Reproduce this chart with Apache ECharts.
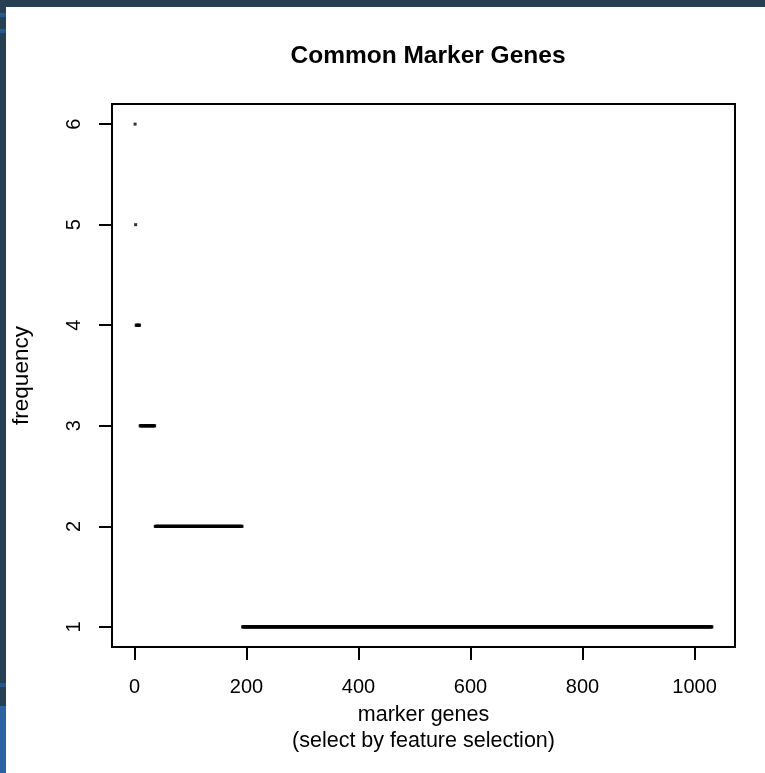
<!DOCTYPE html>
<html>
<head>
<meta charset="utf-8">
<title>Common Marker Genes</title>
<script src="https://cdn.jsdelivr.net/npm/echarts@6/dist/echarts.min.js"></script>
<style>
  html, body { margin: 0; padding: 0; background: #ffffff; }
  #chart { width: 765px; height: 773px; }
</style>
</head>
<body>
<div id="chart"></div>
<script>
// Marker genes ranked by how many selections they appear in.
// Each frequency level is shared by a run of consecutive ranked genes.
const frequencyLevels = [6, 5, 4, 3, 2, 1];
const genesPerLevel = [1, 1, 7, 27, 156, 839];

const xTickValues = [0, 200, 400, 600, 800, 1000];
const yTickValues = [1, 2, 3, 4, 5, 6];

const chartTitle = 'Common Marker Genes';
const xAxisTitle = 'marker genes\n(select by feature selection)';
const yAxisTitle = 'frequency';

// One point per ranked gene: [rank, frequency]
const genePoints = [];
let rank = 1;
frequencyLevels.forEach(function (freq, i) {
  for (let k = 0; k < genesPerLevel[i]; k++) {
    genePoints.push([rank, freq]);
    rank++;
  }
});
const geneCount = rank - 1;

// Axis ranges padded by 4% on each side, like base R graphics
const xPad = 0.04 * (geneCount - 1);
const yMinData = Math.min.apply(null, frequencyLevels);
const yMaxData = Math.max.apply(null, frequencyLevels);
const yPad = 0.04 * (yMaxData - yMinData);

const FONT = 'Liberation Sans, Arial, Helvetica, sans-serif';

const chart = echarts.init(document.getElementById('chart'), null, { renderer: 'canvas' });

chart.setOption({
  backgroundColor: '#ffffff',
  animation: false,
  title: {
    text: chartTitle,
    left: 423,
    top: 39,
    textAlign: 'center',
    textStyle: { fontFamily: FONT, fontSize: 24.5, fontWeight: 'bold', color: '#000000' }
  },
  grid: {
    left: 112,
    top: 104,
    right: 30,
    bottom: 126,
    containLabel: false,
    outerBoundsMode: 'none',
    show: true,
    borderColor: '#000000',
    borderWidth: 2,
    backgroundColor: 'transparent'
  },
  xAxis: {
    type: 'value',
    min: 1 - xPad,
    max: geneCount + xPad,
    name: xAxisTitle,
    nameLocation: 'middle',
    nameGap: 52,
    nameTextStyle: { fontFamily: FONT, fontSize: 21.5, color: '#000000', lineHeight: 26 },
    axisLine: { show: false, onZero: false },
    splitLine: { show: false },
    axisTick: {
      show: true,
      customValues: xTickValues,
      length: 13,
      lineStyle: { color: '#000000', width: 2 }
    },
    axisLabel: {
      customValues: xTickValues,
      formatter: function (v) { return String(v); },
      margin: 30,
      fontFamily: FONT,
      fontSize: 20,
      color: '#000000'
    }
  },
  yAxis: {
    type: 'value',
    min: yMinData - yPad,
    max: yMaxData + yPad,
    name: yAxisTitle,
    nameLocation: 'middle',
    nameRotate: 90,
    nameGap: 79,
    nameTextStyle: { fontFamily: FONT, fontSize: 22.5, color: '#000000' },
    axisLine: { show: false, onZero: false },
    splitLine: { show: false },
    axisTick: {
      show: true,
      customValues: yTickValues,
      length: 13,
      lineStyle: { color: '#000000', width: 2 }
    },
    axisLabel: {
      customValues: yTickValues,
      formatter: function (v) { return String(v); },
      rotate: 90,
      margin: 28,
      fontFamily: FONT,
      fontSize: 20,
      color: '#000000'
    }
  },
  series: [{
    type: 'scatter',
    data: genePoints,
    symbol: 'rect',
    symbolSize: [3, 3],
    itemStyle: { color: '#000000' },
    silent: true,
    large: false
  }],
  graphic: [
    // window frame strips around the plot image
    { type: 'rect', left: 0, top: 0, shape: { width: 765, height: 7 }, style: { fill: '#263f52' }, silent: true },
    { type: 'rect', left: 0, top: 0, shape: { width: 6, height: 773 }, style: { fill: '#263f52' }, silent: true },
    { type: 'rect', left: 0, top: 13, shape: { width: 6, height: 4 }, style: { fill: '#245a92' }, silent: true },
    { type: 'rect', left: 0, top: 29, shape: { width: 6, height: 4 }, style: { fill: '#245a92' }, silent: true },
    { type: 'rect', left: 0, top: 683, shape: { width: 6, height: 4 }, style: { fill: '#22568c' }, silent: true },
    { type: 'rect', left: 0, top: 706, shape: { width: 6, height: 67 }, style: { fill: '#2a62a2' }, silent: true }
  ]
});
</script>
</body>
</html>
